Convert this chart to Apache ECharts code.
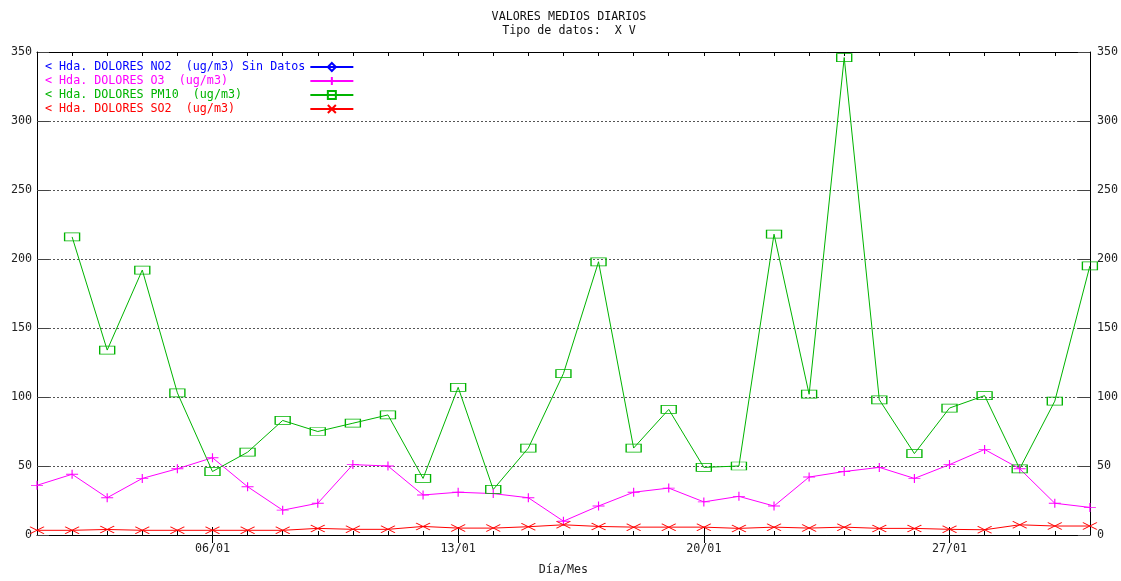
<!DOCTYPE html>
<html><head><meta charset="utf-8">
<script src="https://cdn.jsdelivr.net/npm/echarts@6/dist/echarts.min.js"></script>
<style>html,body{margin:0;padding:0;background:#fff}#c{width:1121px;height:581px}</style>
</head><body><div id="c"></div>
<script>
// ---- data ----
const days = [1,2,3,4,5,6,7,8,9,10,11,12,13,14,15,16,17,18,19,20,21,22,23,24,25,26,27,28,29,30,31];
const no2 = []; // Sin Datos
const o3 = [36,44,27,41,48,56,35,18,23,51,50,29,31,30,27,10,21,31,34,24,28,21,42,46,49,41,51,62,48,23,20];
const pm10 = [null,216,134,192,103,46,60,83,75,81,87,41,107,33,63,117,198,63,91,49,50,218,102,346,98,59,92,101,48,97,195];
const so2 = [3.4,3.4,4,3.4,3.4,3.4,3.4,3.4,4.8,4.1,4.1,6.2,5,5,6,7.4,6.2,5.7,5.7,5.7,4.8,5.7,5,5.7,4.8,4.8,4.1,3.8,7.4,6.5,6.5];
const xTickDays = [6,13,20,27];
const xTickLabels = ['06/01','13/01','20/01','27/01'];
const yTicks = [0,50,100,150,200,250,300,350];
const seriesNames = [
  '< Hda. DOLORES NO2  (ug/m3) Sin Datos',
  '< Hda. DOLORES O3  (ug/m3)',
  '< Hda. DOLORES PM10  (ug/m3)',
  '< Hda. DOLORES SO2  (ug/m3)'
];
const titleLines = ['VALORES MEDIOS DIARIOS','Tipo de datos:  X V'];
const xName = 'Día/Mes';

// ---- chart ----
const colors = ['#0000ff','#ff00ff','#00b400','#ff0000'];
const FONT = 'DejaVu Sans Mono';
const FS = 11.7;
const pairs = arr => days.map((d,i)=>[d, arr[i]]).filter(p => p[1] != null);

const chart = echarts.init(document.getElementById('c'), null, {renderer:'canvas'});

function xAxisBase(pos) {
  return {type:'value', min:days[0], max:days[days.length-1], interval:1, position:pos,
    axisLine:{show:false}, splitLine:{show:false}, axisLabel:{show:false},
    axisTick:{show:false}};
}
const xMinorB = Object.assign(xAxisBase('bottom'), {
  axisLine:{show:true, onZero:false, lineStyle:{color:'#000', width:1}},
  axisTick:{show:true, inside:true, length:4, lineStyle:{color:'#000'}}
});
const xMajorB = Object.assign(xAxisBase('bottom'), {
  axisTick:{show:true, inside:true, length:8, customValues:xTickDays, lineStyle:{color:'#000'}},
  axisLabel:{show:true, customValues:xTickDays, margin:8, color:'#222', fontFamily:FONT, fontSize:FS,
    formatter: v => xTickLabels[xTickDays.indexOf(v)] || ''},
  name:xName, nameLocation:'middle', nameGap:29,
  nameTextStyle:{color:'#222', fontFamily:FONT, fontSize:FS}
});
const xMinorT = Object.assign(xAxisBase('top'), {
  axisLine:{show:true, onZero:false, lineStyle:{color:'#000', width:1}},
  axisTick:{show:true, inside:true, length:4, lineStyle:{color:'#000'}}
});
const xMajorT = Object.assign(xAxisBase('top'), {
  axisTick:{show:true, inside:true, length:8, customValues:xTickDays, lineStyle:{color:'#000'}}
});

function yAxis(pos, grid) {
  return {type:'value', min:yTicks[0], max:yTicks[yTicks.length-1], interval:yTicks[1]-yTicks[0], position:pos,
    axisLine:{show:true, onZero:false, lineStyle:{color:'#000', width:1}},
    axisTick:{show:true, inside:true, length:12, lineStyle:{color:'#444'}},
    axisLabel:{color:'#222', fontFamily:FONT, fontSize:FS, margin:pos==='left'?5:7},
    splitLine:{show:grid, lineStyle:{color:'#555', type:[2,2], width:1}}};
}

const plusPath = 'path://M0,5L10,5M5,0L5,10';
const xPath = 'path://M0,0L10,10M10,0L0,10';

const series = [
  {name:seriesNames[0], type:'line', data:pairs(no2), symbol:'diamond', symbolSize:[11,6],
   itemStyle:{color:'transparent', borderColor:colors[0], borderWidth:1.5}, lineStyle:{color:colors[0], width:1}},
  {name:seriesNames[1], type:'line', data:pairs(o3), symbol:plusPath, symbolSize:[12,9],
   itemStyle:{color:'transparent', borderColor:colors[1], borderWidth:1}, lineStyle:{color:colors[1], width:1}},
  {name:seriesNames[2], type:'line', data:pairs(pm10), symbol:'rect', symbolSize:[15,8],
   itemStyle:{color:'transparent', borderColor:colors[2], borderWidth:1}, lineStyle:{color:colors[2], width:1}},
  {name:seriesNames[3], type:'line', data:pairs(so2), symbol:xPath, symbolSize:[14,7],
   itemStyle:{color:'transparent', borderColor:colors[3], borderWidth:1}, lineStyle:{color:colors[3], width:1}}
].map(s => Object.assign(s, {xAxisIndex:0, yAxisIndex:0, showAllSymbol:true, symbolKeepAspect:false}));

const maxLen = Math.max(...seriesNames.map(n=>n.length));

chart.setOption({
  animation:false,
  backgroundColor:'#fff',
  title:{text:titleLines.join('\n'), left:564, top:5, textAlign:'center',
    textStyle:{fontFamily:FONT, fontSize:FS, fontWeight:'normal', color:'#111', lineHeight:14, align:'center'}},
  grid:{left:37, right:31, top:52, bottom:42, containLabel:false},
  legend:{orient:'vertical', left:40, top:55, align:'right', itemWidth:43, itemHeight:10, itemGap:0,
    formatter: n => n.padEnd(maxLen, ' '),
    textStyle:{fontFamily:FONT, fontSize:FS, lineHeight:14},
    data: seriesNames.map((n,i)=>({name:n, textStyle:{color:colors[i]}})),
    selectedMode:false},
  xAxis:[xMinorB, xMajorB, xMinorT, xMajorT],
  yAxis:[yAxis('left', true), yAxis('right', false)],
  series:series
});
</script>
</body></html>
